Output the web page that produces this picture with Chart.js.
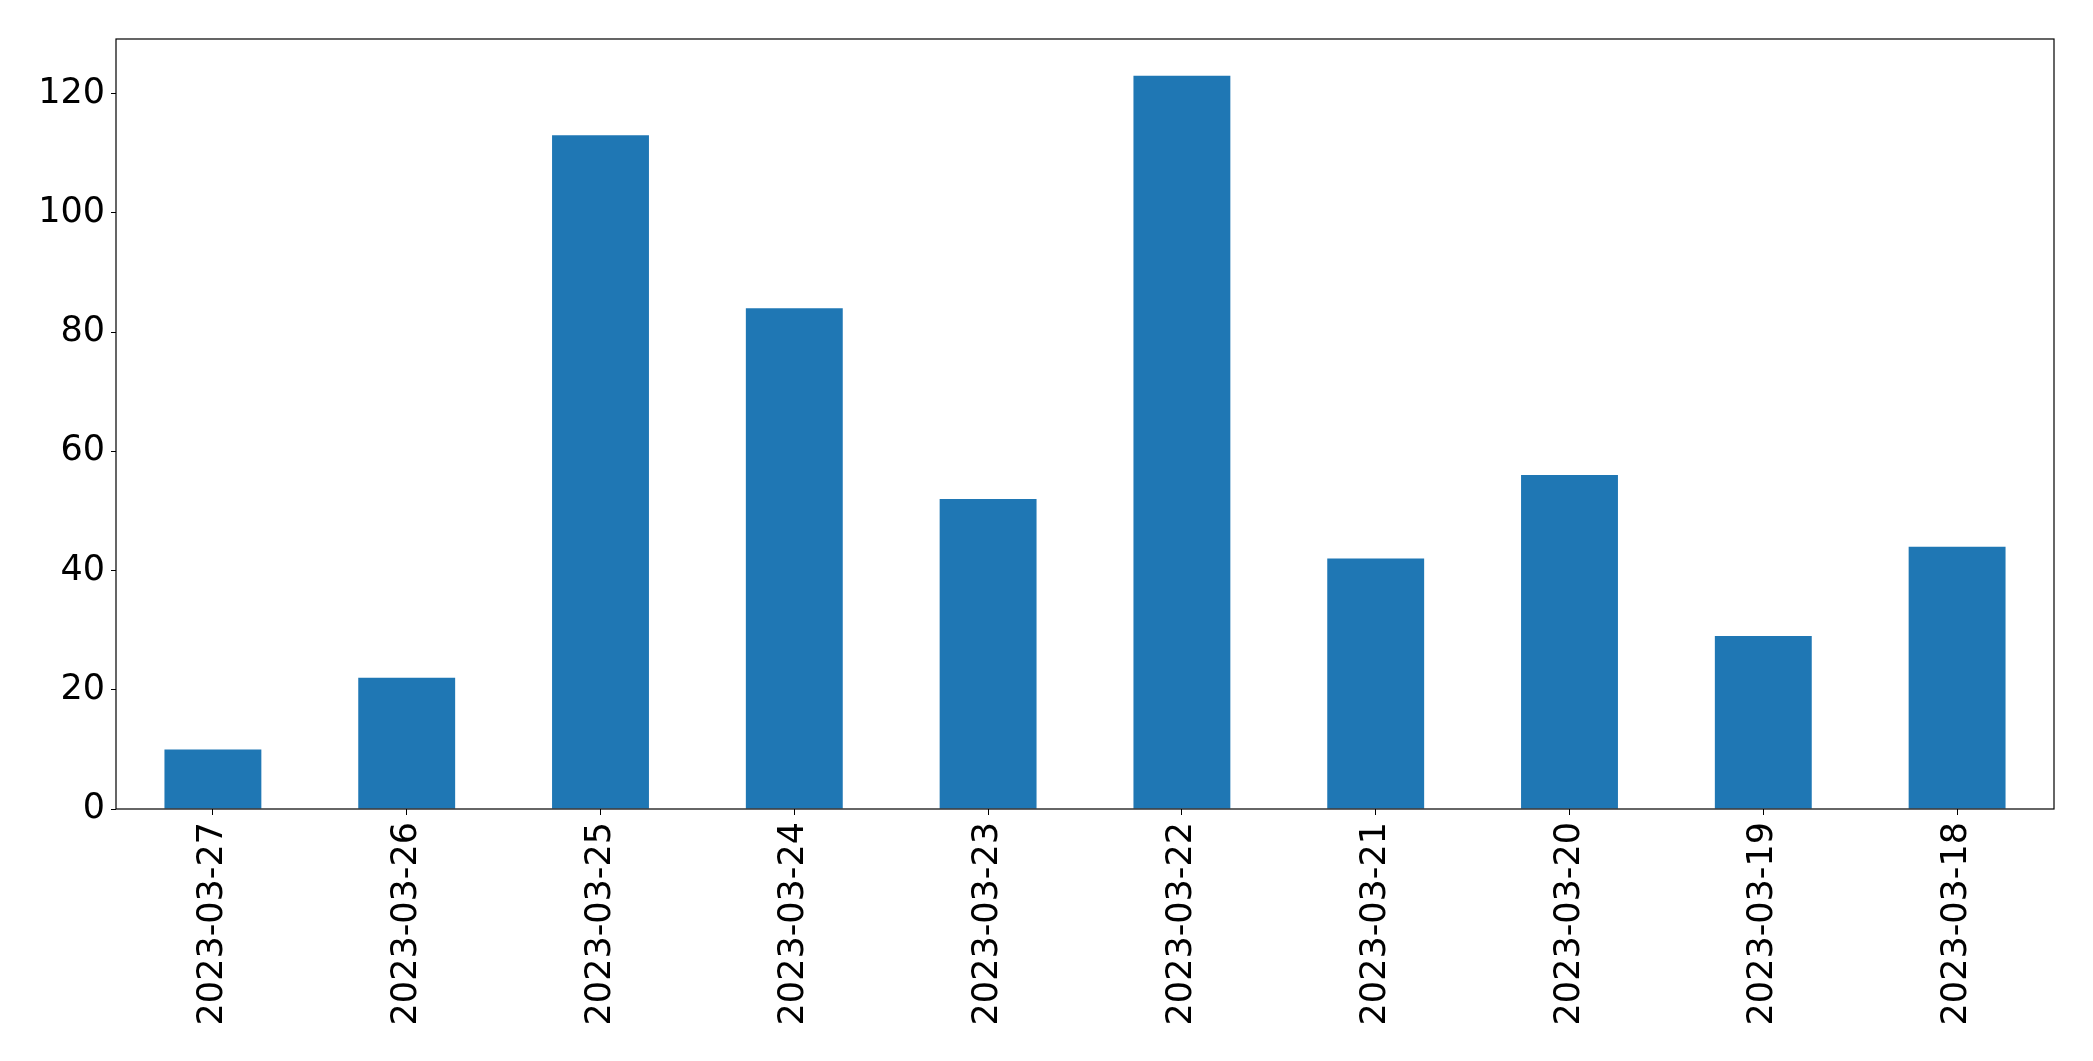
<!DOCTYPE html>
<html>
<head>
<meta charset="utf-8">
<script src="https://cdn.jsdelivr.net/npm/chart.js@4.4.1/dist/chart.umd.min.js"></script>
<style>
  html, body { margin: 0; padding: 0; background: #fff; }
  canvas { display: block; }
</style>
</head>
<body>
<canvas id="grafico" width="2093" height="1061"></canvas>
<script>
// dados do gráfico
const datas = ['2023-03-27', '2023-03-26', '2023-03-25', '2023-03-24', '2023-03-23',
               '2023-03-22', '2023-03-21', '2023-03-20', '2023-03-19', '2023-03-18'];
const contagens = [10, 22, 113, 84, 52, 123, 42, 56, 29, 44];
const ticksY = [0, 20, 40, 60, 80, 100, 120];

const FONTE = { family: '"DejaVu Sans", sans-serif', size: 35 };

// moldura completa em volta da área do gráfico (estilo matplotlib)
const moldura = {
    id: 'moldura',
    afterDatasetsDraw(chart) {
        const { ctx, chartArea: a } = chart;
        ctx.save();
        ctx.strokeStyle = '#000';
        ctx.lineWidth = 1.2;
        ctx.strokeRect(a.left, a.top, a.right - a.left, a.bottom - a.top);
        ctx.restore();
    }
};

const ctx = document.getElementById('grafico').getContext('2d');
new Chart(ctx, {
    type: 'bar',
    data: {
        labels: datas,
        datasets: [{
            data: contagens,
            backgroundColor: '#1f77b4',
            borderWidth: 0,
            barPercentage: 0.5,
            categoryPercentage: 1.0
        }]
    },
    options: {
        responsive: false,
        animation: false,
        layout: { padding: { top: 39, right: 39, left: 0, bottom: 0 } },
        plugins: { legend: { display: false }, tooltip: { enabled: false } },
        scales: {
            x: {
                grid: { display: true, offset: false, drawOnChartArea: false, drawTicks: true, tickLength: 6, color: '#000', tickColor: '#000' },
                border: { display: false },
                ticks: { color: '#000', font: FONTE, minRotation: 90, maxRotation: 90, padding: 7, autoSkip: false },
                afterFit(scale) { scale.height = 252; }
            },
            y: {
                min: 0,
                max: 123 * 1.05,
                grid: { display: true, drawOnChartArea: false, drawTicks: true, tickLength: 5, color: '#000', tickColor: '#000' },
                border: { display: false },
                ticks: { color: '#000', font: FONTE, stepSize: 20, includeBounds: false, padding: 6,
                         callback: v => ticksY.includes(v) ? v : '' },
                afterFit(scale) { scale.width = 116; }
            }
        }
    },
    plugins: [moldura]
});
</script>
</body>
</html>
